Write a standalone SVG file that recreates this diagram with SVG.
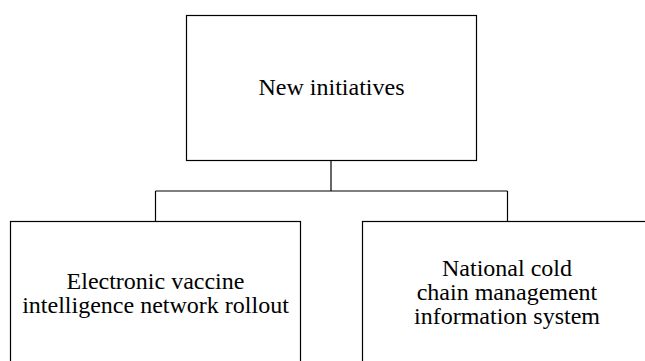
<svg xmlns="http://www.w3.org/2000/svg" width="645" height="361" viewBox="0 0 645 361">
<style>
.box{fill:#fff;stroke:#000;stroke-width:1.2}
.lbl{font-family:"Liberation Serif","Times New Roman",serif;font-size:24px;fill:#000;text-anchor:middle}
.conn{fill:none;stroke:#000;stroke-width:1.2}
</style>
<rect width="645" height="361" fill="#fff"/>
<g id="connectors">
<path class="conn" d="M331,161 V191"/>
<path class="conn" d="M155.5,191 H507.5"/>
<path class="conn" d="M155.5,191 V221.5"/>
<path class="conn" d="M507.5,191 V221.5"/>
</g>
<g id="node-new-initiatives">
<rect class="box" x="186.5" y="15.5" width="290" height="145"/>
<text class="lbl" x="331.5" y="95">New initiatives</text>
</g>
<g id="node-electronic-vaccine">
<rect class="box" x="10.5" y="221.5" width="290" height="160"/>
<text class="lbl" x="155.5" y="289">Electronic vaccine</text>
<text class="lbl" x="155.5" y="313">intelligence network rollout</text>
</g>
<g id="node-national-cold-chain">
<rect class="box" x="362.5" y="221.5" width="290" height="160"/>
<text class="lbl" x="507" y="276">National cold</text>
<text class="lbl" x="507" y="300">chain management</text>
<text class="lbl" x="507" y="324">information system</text>
</g>
</svg>
